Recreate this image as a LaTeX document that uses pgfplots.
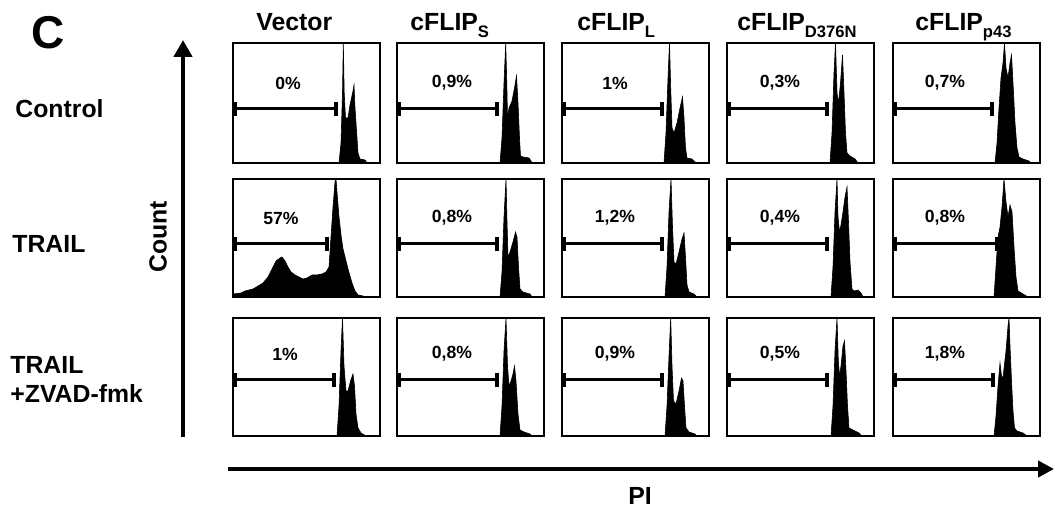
\documentclass[border=0pt]{standalone}
\usepackage{pgfplots}
\pgfplotsset{compat=1.18}
\usepackage{fontspec}
\setmainfont{Liberation Sans}
\usetikzlibrary{arrows.meta}

% #1 left px, #2 top px, #3 panel height px, #4 histogram, #5 gate right, #6 gate height, #7 label, #8 label x
\newcommand\panel[8]{%
  \pgfmathsetlengthmacro\ph{#3*0.5pt}%
  \begin{axis}[at={({#1*0.5pt},{-#2*0.5pt})}, anchor=north west, scale only axis,
      width=73.5pt, height=\ph, xmin=0, xmax=147, ymin=0, ymax=#3, ticks=none,
      axis line style={line width=1pt}, clip=false]
    \addplot[fill=black, draw=black, line width=0.3pt] coordinates {#4} \closedcycle;
    \draw[line width=1.5pt] (axis cs:2,#6) -- (axis cs:#5,#6);
    \draw[line width=2pt] (axis cs:2,#6) ++(0,-3.6pt) -- ++(0,7.2pt);
    \draw[line width=2pt] (axis cs:#5,#6) ++(0,-3.6pt) -- ++(0,7.2pt);
    \node[font=\bfseries\fontsize{8.8}{10}\selectfont, yshift=13pt] at (axis cs:#8,#6) {#7};
  \end{axis}}

\newcommand\sub[1]{\raisebox{-3.5pt}{\fontsize{8.3}{9}\selectfont #1}}

\begin{document}
\begin{tikzpicture}
\path[use as bounding box] (0,0) rectangle (527pt,-253.5pt);

% ---------------- Row 1: Control ----------------
\panel{233}{43}{120}{(106,0) (108,20) (109.5,70) (110.3,120) (111.2,70) (112.5,45) (115,45) (117,58) (120,72) (121,78) (122,55) (124,25) (125,10) (127,4) (132,3) (134,0)}{103}{54}{0\%}{55}
\panel{397}{43}{120}{(103,0) (105,25) (107,80) (108.7,120) (109.8,80) (110.5,45) (112,55) (115,62) (117.5,75) (119.5,87) (121,60) (122.5,25) (123.5,7) (126,6) (132,5) (134,2) (135,0)}{100}{54}{0,9\%}{55}
\panel{562}{43}{120}{(102,0) (104,30) (106,85) (107.5,120) (108.7,75) (110,35) (112,30) (115,40) (118,55) (120.5,66) (122,45) (123.5,15) (125,5) (130,4) (134,0)}{100}{54}{1\%}{53}
\panel{727}{43}{120}{(103,0) (105,30) (107,90) (108.5,120) (110,70) (111.5,60) (113.5,80) (115.5,108) (117,70) (118.5,30) (120,10) (123,7) (128,4) (131,0)}{100}{54}{0,3\%}{53}
\panel{893}{43}{120}{(102,0) (104,20) (106,55) (108,85) (110,100) (111.5,120) (113,95) (115,85) (117,100) (118.5,108) (120,80) (122,40) (124,15) (126,6) (130,4) (136,2) (138,0)}{99}{54}{0,7\%}{52}

% ---------------- Row 2: TRAIL ----------------
\panel{233}{179}{118}{(0,3) (8,4) (12,6) (20,8) (25,11) (30,14) (35,20) (39,28) (43,36) (47,39) (49,40) (52,36) (55,30) (58,25) (62,22) (66,20) (70,18) (74,19) (79,22) (84,22) (89,23) (93,25) (96,30) (98,60) (100,90) (102,115) (103,118) (104,105) (106,80) (108,62) (110,48) (112,40) (115,28) (119,14) (122,6) (125,2) (130,1) (132,0)}{94}{53}{57\%}{48}
\panel{397}{179}{118}{(103,0) (105,25) (107,80) (109,118) (110,75) (111,40) (113,45) (116,55) (118.5,65) (120,60) (121.5,30) (123,8) (126,5) (133,3) (135,0)}{100}{53}{0,8\%}{55}
\panel{562}{179}{118}{(103,0) (105,30) (107,85) (109,118) (110.5,70) (112,35) (114,33) (117,45) (120,58) (122,64) (123.5,40) (125,12) (127,5) (132,3) (135,0)}{100}{53}{1,2\%}{53}
\panel{727}{179}{118}{(104,0) (106,30) (108,85) (110,118) (111,80) (112.5,65) (114,72) (116,85) (118,100) (120,110) (121.5,75) (123,35) (125,8) (127,6) (131,7) (134,4) (136,0)}{100}{53}{0,4\%}{53}
\panel{893}{179}{118}{(101,0) (103,30) (105,60) (107,70) (109,90) (111,118) (113,95) (115,80) (117,92) (119,85) (121,50) (123,20) (125,6) (130,3) (135,0)}{104}{53}{0,8\%}{52}

% ---------------- Row 3: TRAIL + ZVAD-fmk ----------------
\panel{233}{318}{118}{(104,0) (106,30) (108,85) (109.5,118) (111,70) (113,45) (115,45) (117.5,55) (120,62) (121.5,50) (123,22) (125,8) (128,3) (133,0)}{101}{56}{1\%}{52}
\panel{397}{318}{118}{(103,0) (105,30) (107,85) (109,118) (110.5,70) (112,50) (114,55) (116,62) (117.5,70) (119,55) (121,22) (123,6) (127,4) (133,2) (135,0)}{100}{56}{0,8\%}{55}
\panel{562}{318}{118}{(103,0) (105,30) (107,80) (108.7,118) (110,70) (111.5,35) (114,32) (117,45) (119.5,58) (121,55) (122.5,30) (124,8) (127,4) (133,2) (135,0)}{100}{56}{0,9\%}{53}
\panel{727}{318}{118}{(104,0) (106,30) (108,85) (110,118) (111.3,75) (112.5,60) (114,70) (116,90) (117.5,95) (119,65) (120.5,30) (122,8) (126,6) (132,3) (135,0)}{100}{56}{0,5\%}{53}
\panel{893}{318}{118}{(101,0) (103,20) (105,50) (107,73) (108.5,60) (110,58) (111.5,72) (113,85) (115,110) (116,118) (117,90) (118.5,55) (120,25) (121.5,8) (124,5) (130,3) (134,0)}{100}{56}{1,8\%}{52}

\begin{scope}[x=0.5pt, y=-0.5pt]
  \node[inner sep=0pt, anchor=base west, font=\bfseries\fontsize{23}{26}\selectfont] at (31,49) {C};
  \begin{scope}[font=\bfseries\fontsize{12.4}{14}\selectfont, every node/.style={inner sep=0pt}]
    \node[anchor=base west] at (256,31) {Vector};
    \node[anchor=base west] at (410,31) {cFLIP\sub{S}};
    \node[anchor=base west] at (577,31) {cFLIP\sub{L}};
    \node[anchor=base west] at (737,31) {cFLIP\sub{D376N}};
    \node[anchor=base west] at (915,31) {cFLIP\sub{p43}};
    \node[anchor=base west] at (15,118) {Control};
    \node[anchor=base west] at (12,253) {TRAIL};
    \node[anchor=base west] at (10,373) {TRAIL};
    \node[anchor=base west] at (10,402) {+ZVAD-fmk};
    \node[rotate=90] at (158,237) {Count};
    \node[anchor=base] at (640,504) {PI};
  \end{scope}
  \draw[line width=2.4pt, -{Triangle[width=9pt,length=8.5pt]}] (183,437) -- (183,40);
  \draw[line width=2.4pt, -{Triangle[width=8pt,length=8pt]}] (228,469) -- (1054,469);
\end{scope}
\end{tikzpicture}
\end{document}
